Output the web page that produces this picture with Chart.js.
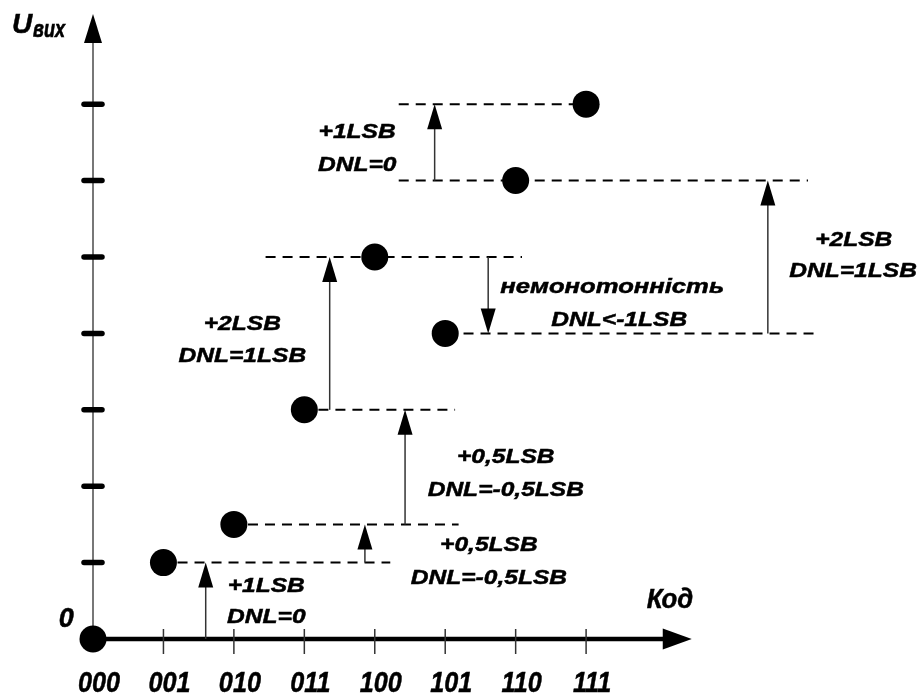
<!DOCTYPE html>
<html>
<head>
<meta charset="utf-8">
<script src="https://cdn.jsdelivr.net/npm/chart.js@4"></script>
<style>
  body { margin: 0; background: #fff; }
</style>
</head>
<body>
<canvas id="dnl" width="920" height="695"></canvas>
<script>
// DAC codes and the output level reached at each code (in LSB)
const codes = ['000', '001', '010', '011', '100', '101', '110', '111'];
const outputLevels = [0, 1, 1.5, 3, 5, 4, 6, 7];
const levelTicks = [1, 2, 3, 4, 5, 6, 7];

// dashed reference levels: level, start code, end code
const refLevels = [1, 1.5, 3, 5, 4, 6, 7];
const refStart = [1.2, 2.2, 3.2, 2.45, 5.26, 4.34, 4.34];
const refEnd = [4.22, 5.19, 5.14, 6.09, 10.25, 10.15, 6.84];

// step arrows: code position, from level, to level
const stepX = [1.6, 3.86, 4.43, 3.36, 5.61, 4.85, 9.58];
const stepFrom = [0, 1, 1.5, 3, 5, 6, 4];
const stepTo = [1, 1.5, 3, 5, 4, 7, 6];

// step annotations
const noteText = ['+1LSB', 'DNL=0', '+0,5LSB', 'DNL=-0,5LSB', '+0,5LSB', 'DNL=-0,5LSB',
  '+2LSB', 'DNL=1LSB', 'немонотонність', 'DNL<-1LSB', '+1LSB', 'DNL=0', '+2LSB', 'DNL=1LSB'];
const noteX = [2.46, 2.46, 5.62, 5.62, 5.86, 5.86, 2.12, 2.12, 7.37, 7.47, 3.75, 3.75, 10.8, 10.79];
const noteY = [0.615, 0.21, 1.15, 0.72, 2.30, 1.87, 4.04, 3.63, 4.53, 4.10, 6.56, 6.13, 5.14, 4.74];

const X_MAX = 11.74;
const Y_MAX = 8.18;
const X_ARROW = 8.5;
const Y_ARROW = 8.18;
const FONT = '"Liberation Sans", Arial, sans-serif';

function text(ctx, str, x, y, size, sx, sy, align) {
  ctx.save();
  ctx.translate(x, y);
  ctx.scale(sx, sy);
  ctx.font = 'italic bold ' + size + 'px ' + FONT;
  ctx.textAlign = align || 'center';
  ctx.textBaseline = 'alphabetic';
  ctx.fillStyle = '#000';
  ctx.strokeStyle = '#000';
  ctx.lineWidth = 0.5;
  ctx.fillText(str, 0, 0);
  ctx.strokeText(str, 0, 0);
  ctx.restore();
}

function arrowHead(ctx, tx, ty, dx, dy, len, half) {
  // tip at (tx, ty), pointing along (dx, dy)
  const bx = tx - dx * len, by = ty - dy * len;
  ctx.beginPath();
  ctx.moveTo(tx, ty);
  ctx.lineTo(bx - dy * half, by + dx * half);
  ctx.lineTo(bx + dy * half, by - dx * half);
  ctx.closePath();
  ctx.fill();
}

const diagram = {
  id: 'diagram',
  beforeDatasetsDraw(chart) {
    const ctx = chart.ctx;
    const xs = chart.scales.x, ys = chart.scales.y;
    const x0 = xs.getPixelForValue(0), y0 = ys.getPixelForValue(0);
    const xTip = xs.getPixelForValue(X_ARROW), yTip = ys.getPixelForValue(Y_ARROW);
    ctx.save();
    ctx.fillStyle = '#000';

    // vertical axis
    ctx.strokeStyle = '#777';
    ctx.lineWidth = 2;
    ctx.beginPath();
    ctx.moveTo(x0, y0);
    ctx.lineTo(x0, yTip + 25);
    ctx.stroke();
    arrowHead(ctx, x0, yTip, 0, -1, 29, 9);

    // horizontal axis
    ctx.strokeStyle = '#000';
    ctx.lineWidth = 4.5;
    ctx.beginPath();
    ctx.moveTo(x0, y0);
    ctx.lineTo(xTip - 25, y0);
    ctx.stroke();
    arrowHead(ctx, xTip, y0, 1, 0, 29, 10.5);

    // code ticks
    ctx.strokeStyle = '#333';
    ctx.lineWidth = 1.5;
    for (let i = 1; i < codes.length; i++) {
      const px = xs.getPixelForValue(i);
      ctx.beginPath();
      ctx.moveTo(px, y0 - 10);
      ctx.lineTo(px, y0 + 15);
      ctx.stroke();
    }

    // level ticks
    ctx.lineWidth = 5.5;
    ctx.lineCap = 'round';
    ctx.strokeStyle = '#000';
    levelTicks.forEach(v => {
      const py = ys.getPixelForValue(v);
      ctx.beginPath();
      ctx.moveTo(x0 - 9, py);
      ctx.lineTo(x0 + 9, py);
      ctx.stroke();
    });
    ctx.restore();
  },
  afterDatasetsDraw(chart) {
    const ctx = chart.ctx;
    const xs = chart.scales.x, ys = chart.scales.y;
    const y0 = ys.getPixelForValue(0);
    ctx.save();
    ctx.fillStyle = '#000';
    ctx.strokeStyle = '#333';
    ctx.lineWidth = 1.5;

    // step arrows
    stepX.forEach((sx, i) => {
      const px = xs.getPixelForValue(sx);
      const pFrom = ys.getPixelForValue(stepFrom[i]);
      const pTo = ys.getPixelForValue(stepTo[i]);
      const dir = pTo < pFrom ? -1 : 1;
      ctx.beginPath();
      ctx.moveTo(px, pFrom);
      ctx.lineTo(px, pTo - dir * 20);
      ctx.stroke();
      arrowHead(ctx, px, pTo, 0, dir, 25, 7.5);
    });

    // code labels
    codes.forEach((c, i) => {
      text(ctx, c, xs.getPixelForValue(i) + 6, y0 + 53, 30, 0.84, 1);
    });

    // annotations
    noteText.forEach((t, i) => {
      const sx = t === 'немонотонність' ? 1.22 : 1.17;
      text(ctx, t, xs.getPixelForValue(noteX[i]), ys.getPixelForValue(noteY[i]), 21, sx, 1);
    });

    // axis captions
    text(ctx, 'Код', xs.getPixelForValue(8.19), ys.getPixelForValue(0.41), 28, 0.92, 1);
    text(ctx, '0', xs.getPixelForValue(-0.38), ys.getPixelForValue(0.16), 27, 1, 1);
    text(ctx, 'U', xs.getPixelForValue(-1.15), ys.getPixelForValue(7.93), 28, 1, 1, 'left');
    text(ctx, 'вих', xs.getPixelForValue(-0.85), ys.getPixelForValue(7.88), 18, 1, 1.35, 'left');
    ctx.restore();
  }
};

const refSets = refLevels.map((lv, i) => ({
  data: [{ x: refStart[i], y: lv }, { x: refEnd[i], y: lv }],
  showLine: true,
  borderColor: '#000',
  borderWidth: 2,
  borderDash: [10, 7],
  pointRadius: 0,
  clip: false,
  order: 2
}));

new Chart(document.getElementById('dnl'), {
  type: 'scatter',
  data: {
    datasets: [
      {
        data: codes.map((c, i) => ({ x: i, y: outputLevels[i] })),
        pointRadius: 13.5,
        pointBackgroundColor: '#000',
        pointBorderWidth: 0,
        clip: false,
        order: 1
      },
      ...refSets
    ]
  },
  options: {
    responsive: false,
    animation: false,
    events: [],
    layout: {
      autoPadding: false,
      padding: { left: 93, right: 0, top: 14, bottom: 56 }
    },
    scales: {
      x: { type: 'linear', min: 0, max: X_MAX, display: false },
      y: { type: 'linear', min: 0, max: Y_MAX, display: false }
    },
    plugins: {
      legend: { display: false },
      tooltip: { enabled: false }
    }
  },
  plugins: [diagram]
});
</script>
</body>
</html>
